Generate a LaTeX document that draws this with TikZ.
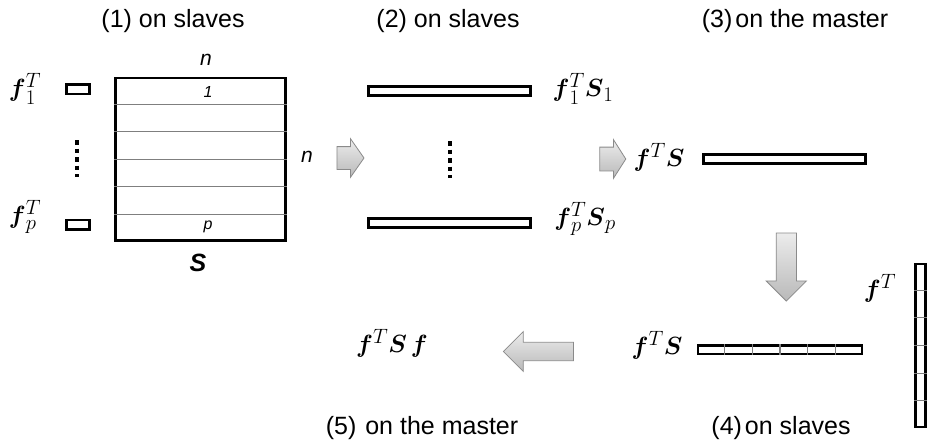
\documentclass[tikz,border=0pt]{standalone}
\usepackage{amsmath}
\usepackage{fontspec}
\setmainfont{Liberation Sans}
\usetikzlibrary{shapes.arrows,positioning,calc}
\DeclareMathSizes{27}{27}{20}{15}
\definecolor{rule}{HTML}{7F7F7F}
\definecolor{arrowline}{HTML}{8A8A8A}
\tikzset{
  caption/.style={font=\fontsize{25}{28}\selectfont,inner sep=0pt},
  mlabel/.style={font=\fontsize{27}{30}\selectfont,inner sep=0pt},
  dimlabel/.style={font=\fontsize{21}{24}\selectfont\itshape,inner sep=0pt},
  rowlabel/.style={font=\fontsize{16}{18}\selectfont\itshape,inner sep=0pt},
  vec/.style={draw,line width=2.8pt,fill=white,minimum width=162pt,minimum height=9.3pt,inner sep=0pt},
  smallvec/.style={vec,minimum width=23pt,minimum height=9.3pt},
  colvec/.style={vec,minimum width=9.6pt,minimum height=163pt},
  matbox/.style={draw,line width=2.6pt,minimum width=170.5pt,minimum height=162.5pt,inner sep=0pt},
  cellline/.style={draw=rule,line width=1.1pt},
  vdots/.style={line width=4pt,dash pattern=on 4.5pt off 4pt},
  block/.style={single arrow,draw=arrowline,line width=0.8pt,top color=gray!15,bottom color=gray!55,inner xsep=0pt},
  every node/.style={inner sep=0pt}
}
\begin{document}
\begin{tikzpicture}[x=1pt,y=-1pt]
\useasboundingbox (0,0) rectangle (931,445);

% stage captions
\node[caption] (cap1) at (173,21.5) {(1) on slaves};
\node[caption] (cap2) at (448,21.5) {(2) on slaves};
\node[caption] (cap3) at (795,21.5) {(3)\hspace{3pt}on the master};
\node[caption] (cap5) at (422,428) {(5)\hspace{9pt}on the master};
\node[caption] (cap4) at (781,428) {(4)\hspace{3pt}on slaves};

% (1) local pieces of f and the row blocks of S
\node[smallvec] (f1) at (78,89.3) {};
\node[smallvec] (fp) at (78,224.7) {};
\node[mlabel] (f1lab) at (25,89) {$\boldsymbol{f}_1^T$};
\node[mlabel] (fplab) at (25,217) {$\boldsymbol{f}_p^T$};
\draw[vdots] (77,140) -- (77,177);

\node[matbox] (S) at (200.5,159.2) {};
\foreach \k in {1,...,5}
  \draw[cellline] ($(S.north west)!\k/6!(S.south west)$) -- ($(S.north east)!\k/6!(S.south east)$);
\node[rowlabel] (row1) at (208,92) {1};
\node[rowlabel] (rowp) at (208,227) {p};
\node[dimlabel] (ntop) at (206,60) {n};
\node[dimlabel] (nside) at (307,157) {n};
\node[font=\fontsize{25}{28}\selectfont\bfseries\itshape] (Slab) at (198,263) {S};

% (2) partial products
\node[block,minimum height=27pt,inner ysep=11pt,single arrow head extend=8pt,single arrow tip angle=110] (step12) at (346.5,158) {};
\node[vec] (part1) at (449.8,91.2) {};
\node[vec] (partp) at (449.8,223) {};
\draw[vdots] (450,141) -- (450,178);
\node[mlabel] (part1lab) at (583,89) {$\boldsymbol{f}_1^T\boldsymbol{S}_1$};
\node[mlabel] (partplab) at (585,219) {$\boldsymbol{f}_p^T\boldsymbol{S}_p$};

% (3) sum on the master
\node[block,minimum height=26pt,inner ysep=11.5pt,single arrow head extend=7.5pt,single arrow tip angle=115] (step23) at (609,159) {};
\node[mlabel] (sumlab) at (659,157) {$\boldsymbol{f}^T\boldsymbol{S}$};
\node[vec] (sum) at (784.2,159.2) {};

% (4) product with f on slaves
\node[block,rotate=-90,minimum height=68pt,inner ysep=9.7pt,single arrow head extend=10pt] (step34) at (786.3,262) {};
\node[vec,minimum width=164pt,minimum height=8.5pt] (prod) at (780,349.7) {};
\foreach \k in {1,...,5}
  \draw[cellline] ($(prod.north west)!\k/6!(prod.north east)$) -- ($(prod.south west)!\k/6!(prod.south east)$);
\node[mlabel] (prodlab) at (657,345) {$\boldsymbol{f}^T\boldsymbol{S}$};
\node[colvec] (fcol) at (920.5,345.5) {};
\foreach \k in {1,...,5}
  \draw[cellline] ($(fcol.north west)!\k/6!(fcol.south west)$) -- ($(fcol.north east)!\k/6!(fcol.south east)$);
\node[mlabel] (fcollab) at (880,288) {$\boldsymbol{f}^T$};

% (5) result on the master
\node[block,rotate=180,minimum height=70pt,inner ysep=8.8pt,single arrow head extend=10.7pt] (step45) at (543,351.5) {};
\node[mlabel] (reslab) at (392,343) {$\boldsymbol{f}^T\boldsymbol{S}\,\boldsymbol{f}$};
\end{tikzpicture}
\end{document}
